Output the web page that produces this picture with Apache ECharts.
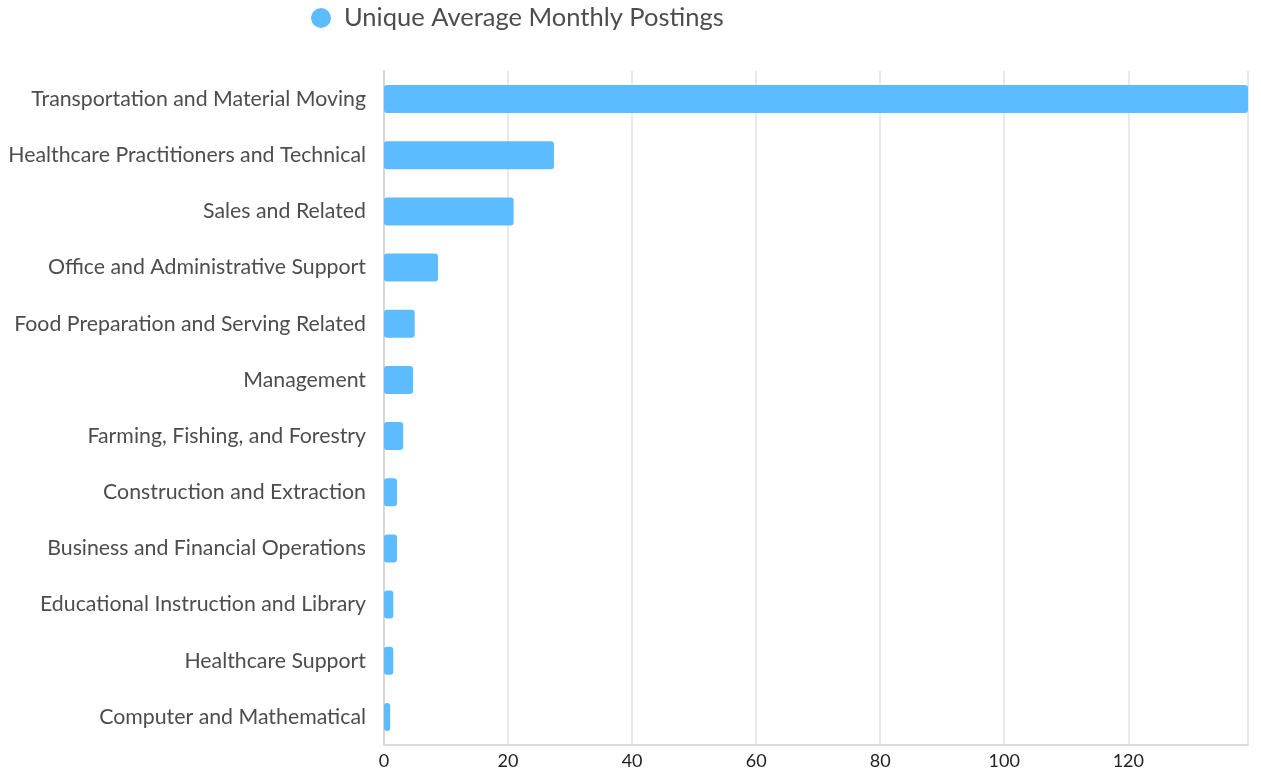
<!DOCTYPE html>
<html>
<head>
<meta charset="utf-8">
<script src="https://cdn.jsdelivr.net/npm/echarts@6/dist/echarts.min.js"></script>
<style>
  html, body { margin: 0; padding: 0; background: #fff; }
  #chart { width: 1261px; height: 774px; }
</style>
</head>
<body>
<div id="chart"></div>
<script>
// Occupation groups, listed top to bottom
const categories = [
  'Transportation and Material Moving',
  'Healthcare Practitioners and Technical',
  'Sales and Related',
  'Office and Administrative Support',
  'Food Preparation and Serving Related',
  'Management',
  'Farming, Fishing, and Forestry',
  'Construction and Extraction',
  'Business and Financial Operations',
  'Educational Instruction and Library',
  'Healthcare Support',
  'Computer and Mathematical'
];
const postings = [139.3, 27.4, 20.9, 8.7, 4.95, 4.7, 3.1, 2.1, 2.1, 1.5, 1.5, 1.0];
const seriesName = 'Unique Average Monthly Postings';

const chart = echarts.init(document.getElementById('chart'), null, { renderer: 'canvas' });
const textColor = '#4d4d4d';
const fontFamily = 'Lato, "Noto Sans", sans-serif';

chart.setOption({
  animation: false,
  textStyle: { fontFamily: fontFamily },
  legend: {
    data: [seriesName],
    top: 0,
    left: 306,
    icon: 'circle',
    itemWidth: 20,
    itemHeight: 20,
    itemGap: 10,
    textStyle: { fontSize: 25.5, color: textColor, fontFamily: fontFamily, padding: [0, 0, 0, 8] }
  },
  grid: { left: 384, right: 13, top: 71, bottom: 29, containLabel: false },
  xAxis: {
    type: 'value',
    min: 0,
    max: 'dataMax',
    interval: 20,
    axisLine: { show: true, lineStyle: { color: '#dcdcdc', width: 2 } },
    axisTick: { show: false },
    axisLabel: { color: '#222', fontSize: 18, fontFamily: fontFamily, margin: 7, showMaxLabel: false },
    splitLine: { show: true, lineStyle: { color: '#e2e2e2', width: 1.5 } }
  },
  yAxis: {
    type: 'category',
    inverse: true,
    data: categories,
    axisLine: { show: true, lineStyle: { color: '#d6d6d6', width: 2 } },
    axisTick: { show: false },
    axisLabel: { color: textColor, fontSize: 21.3, fontFamily: fontFamily, margin: 18, padding: [2, 0, 0, 0] }
  },
  series: [{
    name: seriesName,
    type: 'bar',
    data: postings,
    barWidth: 28,
    itemStyle: { color: '#5cbcff', borderRadius: 3 }
  }]
});
</script>
</body>
</html>
